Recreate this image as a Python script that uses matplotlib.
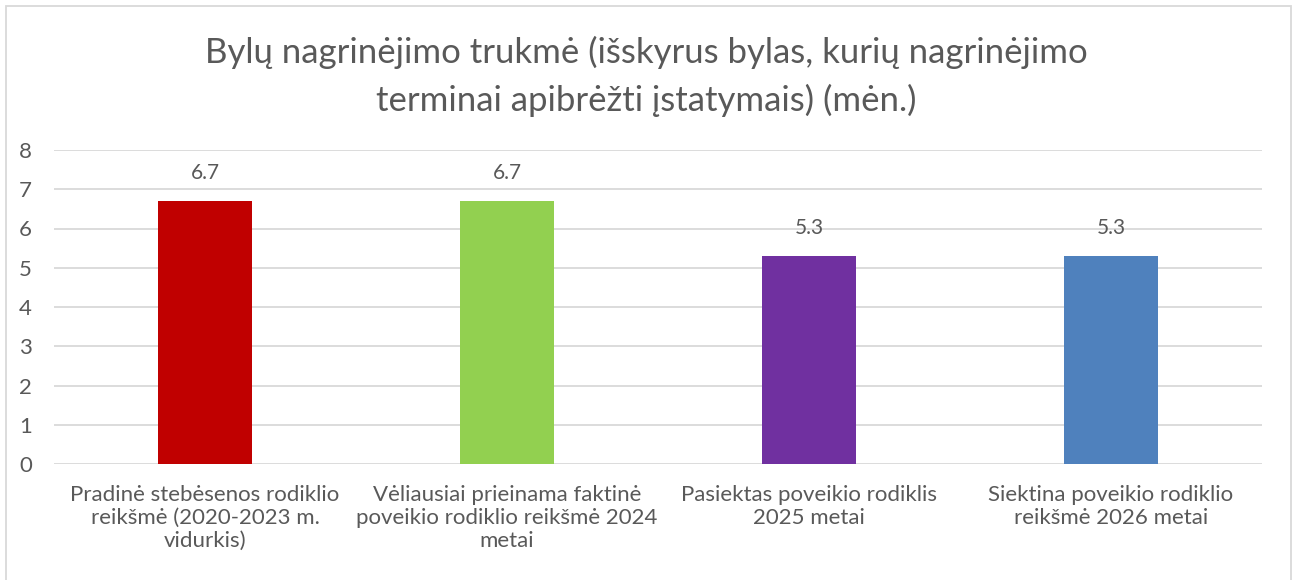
import matplotlib.pyplot as plt
from matplotlib.patches import Rectangle

# Data
categories = [
    'Pradinė stebėsenos rodiklio\nreikšmė (2020-2023 m.\nvidurkis)',
    'Vėliausiai prieinama faktinė\npoveikio rodiklio reikšmė 2024\nmetai',
    'Pasiektas poveikio rodiklis\n2025 metai',
    'Siektina poveikio rodiklio\nreikšmė 2026 metai',
]
values = [6.7, 6.7, 5.3, 5.3]
bar_colors = ['#C00000', '#92D050', '#7030A0', '#4F81BD']
yticks = [0, 1, 2, 3, 4, 5, 6, 7, 8]

plt.rcParams['font.family'] = ['Lato', 'DejaVu Sans']
text_color = '#595959'

fig = plt.figure(figsize=(12.98, 5.80), dpi=100)
ax = fig.add_axes([54 / 1298, 1 - 464 / 580, (1262 - 54) / 1298, (464 - 150) / 580])

x = list(range(len(categories)))
bars = ax.bar(x, values, width=0.31, color=bar_colors, zorder=3)

for rect, v in zip(bars, values):
    ax.annotate(f'{v:.1f}', (rect.get_x() + rect.get_width() / 2, v),
                xytext=(0, 13), textcoords='offset points',
                ha='center', va='bottom', fontsize=15, color=text_color)

ax.set_xlim(-0.5, len(categories) - 0.5)
ax.set_ylim(0, 8)
ax.set_yticks(yticks)
ax.set_yticklabels([str(t) for t in yticks])
ax.set_xticks(x)
ax.set_xticklabels(categories, fontsize=16, color=text_color, linespacing=1.2)
ax.tick_params(axis='y', labelsize=16, labelcolor=text_color, length=0, pad=16)
ax.tick_params(axis='x', length=0, pad=15)

ax.grid(axis='y', color='#D9D9D9', linewidth=1.3, zorder=0)
for s in ax.spines.values():
    s.set_visible(False)

fig.text(0.498, 0.869, 'Bylų nagrinėjimo trukmė (išskyrus bylas, kurių nagrinėjimo\nterminai apibrėžti įstatymais) (mėn.)',
         ha='center', va='center', fontsize=25, color=text_color, linespacing=1.55)

# chart border
fig.patches.append(Rectangle((6 / 1298, -0.05), (1291 - 6) / 1298, 1 - 6 / 580 + 0.05,
                             transform=fig.transFigure, fill=False,
                             edgecolor='#D9D9D9', linewidth=1.3))

fig.savefig('out.png', dpi=100)
